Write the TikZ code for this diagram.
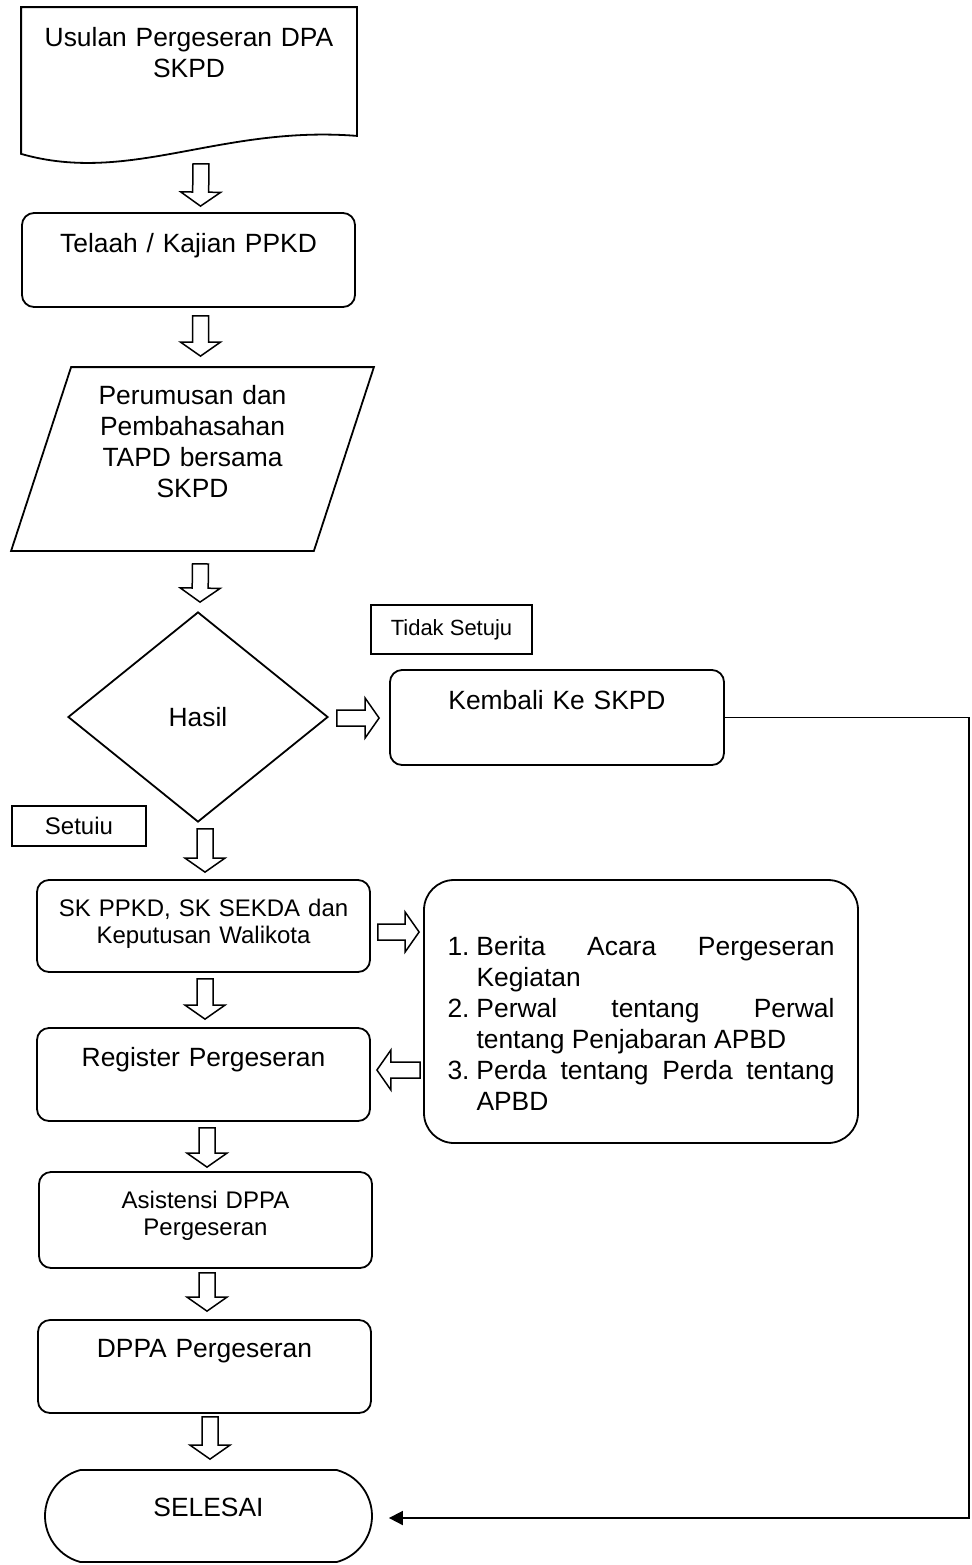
\documentclass[tikz,border=0pt]{standalone}
\usepackage{fontspec}
\setmainfont{Liberation Sans}
\usetikzlibrary{calc,arrows.meta,shapes.geometric,shapes.misc}

% hollow block arrow from #1 to the tip #2
\newcommand{\fatarrow}[2]{%
    \coordinate (fa1) at (#1);
    \coordinate (fa2) at (#2);
    \coordinate (fah) at ($(fa2)!7pt!(fa1)$);
    \draw[fat] ($(fa1)!4pt!90:(fa2)$) -- ($(fah)!4pt!90:(fa2)$) -- ($(fah)!10pt!90:(fa2)$) -- (fa2)
        -- ($(fah)!10pt!-90:(fa2)$) -- ($(fah)!4pt!-90:(fa2)$) -- ($(fa1)!4pt!-90:(fa2)$) -- cycle;
}
\newcommand{\smalltext}{\fontsize{12}{13.5}\selectfont}

\begin{document}
\begin{tikzpicture}[x=0.5pt,y=-0.5pt,line width=0.9pt,
    every node/.style={font=\fontsize{13.2}{15.5}\selectfont, inner sep=0pt},
    proc/.style={draw, rounded corners=6pt, minimum width=166.5pt, text width=160pt, align=center},
    tag/.style={draw, font=\smalltext},
    fat/.style={draw, fill=white, line width=0.75pt, line join=miter},
    back/.style={-{Triangle[length=7pt,width=7pt]}}]

    \useasboundingbox (0,0) rectangle (972,1565);

    % document shape
    \node[text width=160pt, align=center, minimum width=167pt, text height=19pt, text depth=59.5pt] (usulan) at (189,86.5) {Usulan Pergeseran DPA\\SKPD};
    \draw (usulan.north west) -- (usulan.north east) -- ([yshift=15pt]usulan.south east)
        .. controls (220,125) and (130,185) .. ([yshift=6pt]usulan.south west) -- cycle;

    \node[proc, text height=19.5pt, text depth=27.5pt] (telaah) at (188.5,260) {Telaah / Kajian PPKD};

    % parallelogram
    \node[text width=150pt, align=center, minimum width=150.5pt, text height=18pt, text depth=73pt] (rumus) at (192.5,459) {Perumusan dan\\Pembahasahan\\TAPD bersama\\SKPD};
    \draw ([xshift=15pt]rumus.north west) -- ([xshift=15pt]rumus.north east)
        -- ([xshift=-15pt]rumus.south east) -- ([xshift=-15pt]rumus.south west) -- cycle;

    \node[draw, diamond, minimum width=130pt, minimum height=105pt, aspect=1.24] (hasil) at (198,717) {Hasil};

    \node[tag, font=\fontsize{11}{13}\selectfont, minimum width=80.5pt, minimum height=24.5pt] (tidak) at (451.5,629.5) {Tidak Setuju};
    \node[proc, minimum width=167pt, text height=19.5pt, text depth=28pt] (kembali) at (557,717.5) {Kembali Ke SKPD};
    \node[tag, minimum width=67pt, minimum height=20pt] (setuju) at (79,826) {Setuiu};

    \node[proc, font=\smalltext, text height=18pt, text depth=28pt] (sk) at (203.5,926) {SK PPKD, SK SEKDA dan\\Keputusan Walikota};
    \node[draw, rounded corners=15pt, minimum width=217pt, text width=193.5pt, align=justify, text height=37.5pt, text depth=94pt] (dokumen) at (641,1011.5) {%
        \hangindent=14.5pt\hangafter=1\noindent\makebox[14.5pt][l]{1.}Berita Acara Pergeseran\linebreak Kegiatan\par
        \hangindent=14.5pt\hangafter=1\noindent\makebox[14.5pt][l]{2.}Perwal tentang Perwal\linebreak tentang Penjabaran APBD\par
        \hangindent=14.5pt\hangafter=1\noindent\makebox[14.5pt][l]{3.}Perda tentang Perda tentang\linebreak APBD\par};
    \node[proc, text height=19pt, text depth=27.5pt] (register) at (203.5,1074.5) {Register Pergeseran};
    \node[proc, font=\smalltext, text height=18pt, text depth=30pt] (asistensi) at (205.5,1220) {Asistensi DPPA\\Pergeseran};
    \node[proc, text height=18.5pt, text depth=28pt] (dppa) at (204.5,1366.5) {DPPA Pergeseran};
    \node[draw, rounded rectangle, rounded rectangle arc length=150, minimum width=163.5pt, minimum height=46pt, text height=10pt, text depth=10pt] (selesai) at (208.5,1516) {SELESAI};

    % block arrows
    \fatarrow{$(usulan.south)+(12,-2)$}{$(telaah.north)+(12,-6)$}
    \fatarrow{$(telaah.south)+(12,8)$}{$(rumus.north)+(8,-11)$}
    \fatarrow{$(rumus.south)+(8,13)$}{$(hasil.north)+(2,-9)$}
    \fatarrow{$(hasil.south)+(7,6)$}{$(sk.north)+(1.5,-7)$}
    \fatarrow{$(sk.south)+(1.5,6)$}{$(register.north)+(1.5,-8)$}
    \fatarrow{$(register.south)+(3.5,6)$}{$(asistensi.north)+(1.5,-4)$}
    \fatarrow{$(asistensi.south)+(1.5,4)$}{$(dppa.north)+(2.5,-8)$}
    \fatarrow{$(dppa.south)+(5.5,3)$}{$(selesai.north)+(1.5,-10)$}
    \fatarrow{$(hasil.east)+(8,1)$}{$(kembali.west)+(-10,0.5)$}
    \fatarrow{$(sk.east)+(7,6)$}{$(dokumen.west |- sk.east)+(-4,6)$}
    \fatarrow{$(dokumen.west |- register.east)+(-3,-4.5)$}{$(register.east)+(6,-4.5)$}

    % back to the end
    \draw[back] (kembali.east) -- ++(244,0) |- ($(selesai.east)+(16,2)$);

\end{tikzpicture}
\end{document}
